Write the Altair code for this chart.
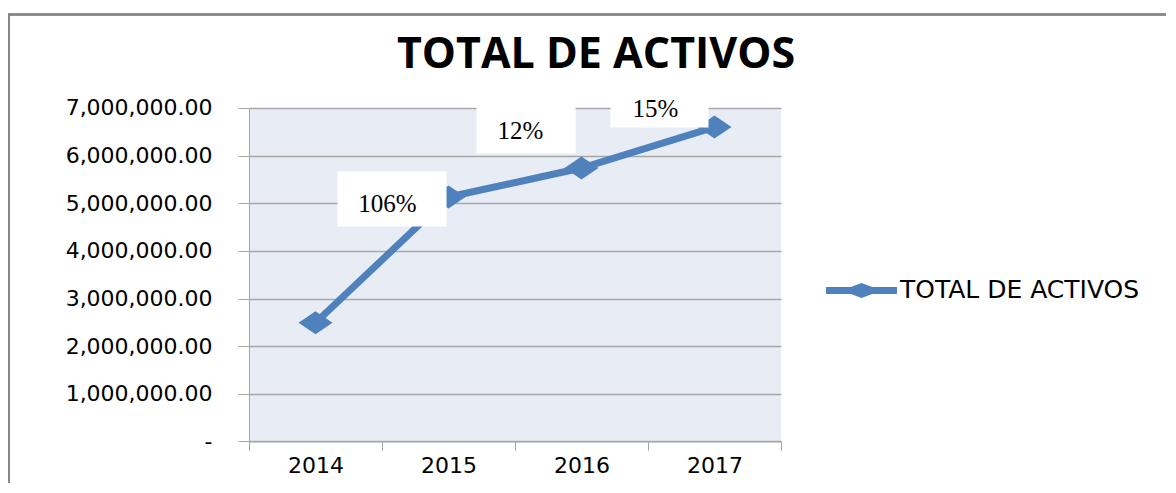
import altair as alt
import pandas as pd

years = ["2014", "2015", "2016", "2017"]
totals = [2490000, 5130000, 5740000, 6600000]
growth_years = ["2015", "2016", "2017"]
growth_labels = ["106%", "12%", "15%"]
series_name = "TOTAL DE ACTIVOS"

df = pd.DataFrame({"year": years, "total": totals, "serie": [series_name] * len(years)})
lab = pd.DataFrame({"year": growth_years, "label": growth_labels,
                    "total": [totals[years.index(y)] for y in growth_years]})

BLUE = "#4F81BD"
GRID = "#A6A6A6"

x_enc = alt.X("year:N", title=None,
              scale=alt.Scale(type="band", paddingInner=0, paddingOuter=0),
              axis=alt.Axis(labelAngle=0, labelFont="DejaVu Sans", labelFontSize=22,
                            labelColor="#000000", labelPadding=5, tickBand="extent",
                            tickSize=9, tickColor=GRID, domainColor=GRID, grid=False))
zero_label = "-" + "\u00a0\u00a0"
y_enc = alt.Y("total:Q", title=None,
              scale=alt.Scale(domain=[0, 7000000], nice=False),
              axis=alt.Axis(values=[0, 1000000, 2000000, 3000000, 4000000, 5000000, 6000000, 7000000],
                            labelExpr="datum.value == 0 ? '" + zero_label + "' : format(datum.value, ',.2f')",
                            labelFont="DejaVu Sans", labelFontSize=22, labelColor="#000000",
                            labelPadding=26, tickSize=11, tickColor=GRID, domainColor=GRID,
                            gridColor=GRID, gridWidth=1.3))

diamond = "M-1,0L0,-0.68L1,0L0,0.68Z"
legend_sym = ("M-1,-0.1L-0.3,-0.1L0,-0.21L0.3,-0.1L1,-0.1L1,0.1L0.3,0.1L0,0.21"
              "L-0.3,0.1L-1,0.1Z")

color_enc = alt.Color("serie:N", scale=alt.Scale(range=[BLUE]),
                      legend=alt.Legend(title=None, orient="none", legendX=577, legendY=147,
                                        symbolType=legend_sym, symbolSize=5041,
                                        symbolFillColor=BLUE, symbolStrokeWidth=0,
                                        labelFont="DejaVu Sans", labelFontSize=25,
                                        labelColor="#000000", labelOffset=3, labelLimit=400))

line = alt.Chart(df).mark_line(strokeWidth=7).encode(x=x_enc, y=y_enc, color=color_enc)
points = alt.Chart(df).mark_point(shape=diamond, size=1156, filled=True, opacity=1).encode(
    x=x_enc, y=y_enc, color=color_enc)

# growth annotation boxes (offsets are styling relative to each data point)
box_style = {"2015": (-56.5, 2, 109), "2016": (-55.5, -42, 99), "2017": (-55, -27, 98)}
text_style = {"2015": (-61, 6.5), "2016": (-61, -37), "2017": (-59, -18.5)}
ann_layers = []
for y in growth_years:
    dx, dy, w = box_style[y]
    h = 55
    hy = h / w
    path = f"M-1,{-hy}L1,{-hy}L1,{hy}L-1,{hy}Z"
    sub = lab[lab["year"] == y]
    ann_layers.append(alt.Chart(sub).mark_point(shape=path, size=w * w, filled=True, fill="white",
                                                opacity=1, strokeWidth=0, xOffset=dx, yOffset=dy)
                      .encode(x="year:N", y="total:Q"))
    tx, ty = text_style[y]
    ann_layers.append(alt.Chart(sub).mark_text(font="Liberation Serif", fontSize=25, color="#000000",
                                               baseline="middle", align="center", dx=tx, dy=ty)
                      .encode(x="year:N", y="total:Q", text="label:N"))

border_top = alt.Chart(df).mark_rule(color="#888888", strokeWidth=2).encode(
    x=alt.value(-241), x2=alt.value(940), y=alt.value(-93.5))
border_left = alt.Chart(df).mark_rule(color="#888888", strokeWidth=2).encode(
    x=alt.value(-240), y=alt.value(-94), y2=alt.value(400))

chart = alt.layer(line, points, *ann_layers, border_top, border_left).properties(
    width=532, height=333.4,
    title=alt.TitleParams(series_name, font="Open Sans", fontWeight="bold", fontSize=43,
                          color="#000000", anchor="middle", frame="group", dx=81,
                          baseline="alphabetic", offset=-98),
    autosize=alt.AutoSizeParams(type="none"),
    padding={"left": 241, "top": 100, "right": 385, "bottom": 42},
    background="white",
).configure_view(fill="#E8ECF4", stroke=None)

chart.save("out.html", embed_options={"renderer": "svg", "actions": False})
